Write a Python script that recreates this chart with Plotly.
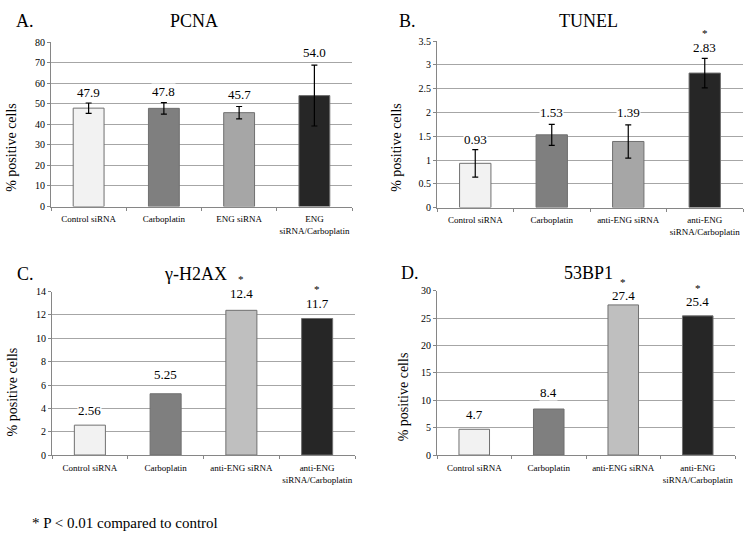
import plotly.graph_objects as go

W, H = 750, 552

# --- data ---
cats_ab = ["Control siRNA", "Carboplatin", "ENG siRNA", "ENG<br>siRNA/Carboplatin"]
cats_b = ["Control siRNA", "Carboplatin", "anti-ENG siRNA", "anti-ENG<br>siRNA/Carboplatin"]

pcna_vals = [47.9, 47.8, 45.7, 54.0]
pcna_err = [2.5, 2.8, 3.0, 14.8]
pcna_lbl = ["47.9", "47.8", "45.7", "54.0"]

tunel_vals = [0.93, 1.53, 1.39, 2.83]
tunel_err = [0.29, 0.22, 0.35, 0.31]
tunel_lbl = ["0.93", "1.53", "1.39", "2.83"]
tunel_star = [False, False, False, True]

h2ax_vals = [2.56, 5.25, 12.4, 11.7]
h2ax_lbl = ["2.56", "5.25", "12.4", "11.7"]
h2ax_star = [False, False, True, True]

bp1_vals = [4.7, 8.4, 27.4, 25.4]
bp1_lbl = ["4.7", "8.4", "27.4", "25.4"]
bp1_star = [False, False, True, True]

colors_top = ["#f2f2f2", "#7f7f7f", "#a6a6a6", "#262626"]
colors_bot = ["#f2f2f2", "#7f7f7f", "#bfbfbf", "#262626"]

FONT = "Liberation Serif"


def px_x(p):
    return p / W


def px_y(p):
    return 1 - p / H


# panel boxes in pixels: (x0, x1, ytop, ybottom)
panels = [
    dict(box=(51, 352, 37, 205), cats=cats_ab, vals=pcna_vals, err=pcna_err, lbl=pcna_lbl,
         star=[False] * 4, rng=[0, 80], dtick=10, colors=colors_top, title="PCNA", tag="A.",
         title_xy=(194, 15), tag_xy=(25, 15), ytitle_xy=(12, 145),
         lshift=[11, 11, 12, 13]),
    dict(box=(437, 743, 36, 206), cats=cats_b, vals=tunel_vals, err=tunel_err, lbl=tunel_lbl,
         star=tunel_star, rng=[0, 3.5], dtick=0.5, colors=colors_top, title="TUNEL", tag="B.",
         title_xy=(588, 15), tag_xy=(407, 15), ytitle_xy=(397, 145),
         lshift=[10, 12, 12, 11]),
    dict(box=(52, 355, 292, 459), cats=cats_b, vals=h2ax_vals, err=None, lbl=h2ax_lbl,
         star=h2ax_star, rng=[0, 14], dtick=2, colors=colors_bot, title="γ-H2AX", tag="C.",
         title_xy=(195, 274), tag_xy=(25, 274), ytitle_xy=(12, 395),
         lshift=[15, 19, 17, 15]),
    dict(box=(437, 735, 291, 459), cats=cats_b, vals=bp1_vals, err=None, lbl=bp1_lbl,
         star=bp1_star, rng=[0, 30], dtick=5, colors=colors_bot, title="53BP1", tag="D.",
         title_xy=(588, 273), tag_xy=(410, 273), ytitle_xy=(403, 400),
         lshift=[15, 17, 9, 14]),
]

fig = go.Figure()
annotations = []

for i, p in enumerate(panels):
    n = "" if i == 0 else str(i + 1)
    x0, x1, yt, yb = p["box"]
    xs = list(range(len(p["vals"])))
    bar = dict(
        x=xs, y=p["vals"], width=0.41,
        marker=dict(color=p["colors"], line=dict(color="#707070", width=1)),
        xaxis="x" + n, yaxis="y" + n, showlegend=False, hoverinfo="skip",
    )
    if p["err"] is not None:
        bar["error_y"] = dict(type="data", array=p["err"], color="black", thickness=1.2, width=3)
    fig.add_trace(go.Bar(**bar))

    fig.update_layout({
        "xaxis" + n: dict(
            domain=[px_x(x0), px_x(x1)], anchor="y" + n, range=[-0.5, 3.5],
            tickvals=xs, ticktext=p["cats"], tickfont=dict(family=FONT, size=9, color="black"),
            showline=True, linecolor="#868686", ticks="", showgrid=False, zeroline=False,
            ticklabelstandoff=4,
            minor=dict(tickvals=[-0.5, 0.5, 1.5, 2.5, 3.5], ticks="outside", ticklen=3,
                       tickcolor="#868686", showgrid=False),
            fixedrange=True,
        ),
        "yaxis" + n: dict(
            domain=[px_y(yb), px_y(yt)], anchor="x" + n, range=p["rng"], dtick=p["dtick"],
            tickfont=dict(family=FONT, size=10, color="black"),
            showline=True, linecolor="#868686", ticks="outside", ticklen=3, tickcolor="#868686",
            showgrid=True, gridcolor="#a6a6a6", gridwidth=1, zeroline=False, fixedrange=True,
        ),
    })

    # value labels above bar / error bar, significance star just above the label
    for j, v in enumerate(p["vals"]):
        top = v + (p["err"][j] if p["err"] is not None else 0)
        annotations.append(dict(
            x=xs[j], y=top, xref="x" + n, yref="y" + n, text=p["lbl"][j], showarrow=False,
            yanchor="middle", yshift=p["lshift"][j], bgcolor="white", borderpad=0,
            font=dict(family=FONT, size=13, color="black"),
        ))
        if p["star"][j]:
            annotations.append(dict(
                x=xs[j], y=top, xref="x" + n, yref="y" + n, text="*", showarrow=False,
                yanchor="middle", yshift=p["lshift"][j] + 14, borderpad=0,
                font=dict(family=FONT, size=11, color="black"),
            ))

    annotations.append(dict(
        x=px_x(p["title_xy"][0]), y=px_y(p["title_xy"][1]), xref="paper", yref="paper",
        text=p["title"], showarrow=False, xanchor="center", yanchor="middle",
        font=dict(family=FONT, size=18, color="black"),
    ))
    annotations.append(dict(
        x=px_x(p["tag_xy"][0]), y=px_y(p["tag_xy"][1]), xref="paper", yref="paper",
        text=p["tag"], showarrow=False, xanchor="center", yanchor="middle",
        font=dict(family=FONT, size=18, color="black"),
    ))
    annotations.append(dict(
        x=px_x(p["ytitle_xy"][0]), y=px_y(p["ytitle_xy"][1]), xref="paper", yref="paper",
        text="% positive cells", showarrow=False, textangle=-90,
        xanchor="center", yanchor="middle",
        font=dict(family=FONT, size=14, color="black"),
    ))

annotations.append(dict(
    x=px_x(30), y=px_y(528), xref="paper", yref="paper",
    text="* P < 0.01 compared to control", showarrow=False, xanchor="left", yanchor="middle",
    font=dict(family=FONT, size=15, color="black"),
))

fig.update_layout(
    width=W, height=H, margin=dict(l=0, r=0, t=0, b=0),
    paper_bgcolor="white", plot_bgcolor="white",
    annotations=annotations, bargap=0.59,
    font=dict(family=FONT, color="black"),
)

# drop the browser's default 8px body margin so the figure sits at the page origin
fig.write_html("out.html", config={"displayModeBar": False},
               post_script="document.body.style.margin='0px';")
